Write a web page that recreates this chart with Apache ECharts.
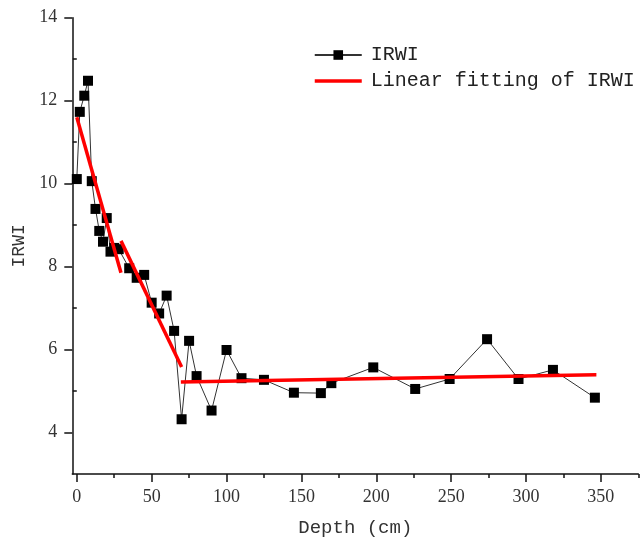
<!DOCTYPE html>
<html>
<head>
<meta charset="utf-8">
<script src="https://cdn.jsdelivr.net/npm/echarts@6/dist/echarts.min.js"></script>
<style>
  html, body { margin: 0; padding: 0; background: #fff; }
  #chart { width: 640px; height: 539px; }
</style>
</head>
<body>
<div id="chart"></div>
<script>
// Measured IRWI profile against depth
const depth = [0, 2, 5, 7.5, 10, 12.5, 15, 17.5, 20, 22.5, 25, 28, 35, 40, 45, 50, 55, 60, 65, 70,
               75, 80, 90, 100, 110, 125, 145, 163, 170, 198, 226, 249, 274, 295, 318, 346];
const irwi = [10.11, 11.73, 12.12, 12.48, 10.06, 9.39, 8.86, 8.60, 9.17, 8.36, 8.45, 8.42, 7.96, 7.73, 7.80, 7.13, 6.87, 7.30, 6.45, 4.32,
              6.21, 5.36, 4.53, 5.99, 5.31, 5.27, 4.96, 4.95, 5.19, 5.57, 5.05, 5.29, 6.25, 5.29, 5.51, 4.84];

// Piecewise linear fits (start depth/value, end depth/value)
const fitDepthA = [0, 29.5];
const fitValueA = [11.60, 7.85];
const fitDepthB = [29.5, 70];
const fitValueB = [8.62, 5.58];
const fitDepthC = [69.5, 347];
const fitValueC = [5.22, 5.39];

// Axis ticks
const xTicks = [0, 50, 100, 150, 200, 250, 300, 350];
const xMinorTicks = [25, 75, 125, 175, 225, 275, 325, 375];
const yTicks = [4, 6, 8, 10, 12, 14];
const yMinorTicks = [5, 7, 9, 11, 13];

const pairs = (xs, ys) => xs.map((x, i) => [x, ys[i]]);

const axisColor = '#111';
const labelFont = { fontFamily: 'Liberation Serif', fontSize: 18, color: '#333' };
const nameFont = { fontFamily: 'Liberation Mono', fontSize: 19, color: '#333' };

const chart = echarts.init(document.getElementById('chart'), null, { renderer: 'canvas' });

const fitName = 'Linear fitting of IRWI';
const fitSeries = [[fitDepthA, fitValueA], [fitDepthB, fitValueB], [fitDepthC, fitValueC]].map(([xs, ys]) => ({
  name: fitName,
  type: 'line',
  data: pairs(xs, ys),
  symbol: 'none',
  z: 5,
  lineStyle: { color: '#ff0000', width: 3.5 },
  itemStyle: { color: '#ff0000' },
  animation: false
}));

chart.setOption({
  animation: false,
  grid: { left: 72.3, right: 1.7, top: 17.7, bottom: 65, outerBoundsMode: 'none' },
  legend: {
    orient: 'vertical',
    left: 308,
    top: 40,
    itemWidth: 47,
    itemHeight: 12,
    itemGap: 6,
    data: ['IRWI', {
      name: fitName,
      itemStyle: { color: 'rgba(0,0,0,0)', borderWidth: 0, opacity: 0 },
      lineStyle: { color: '#ff0000', width: 3.5 }
    }],
    textStyle: { fontFamily: 'Liberation Mono', fontSize: 20, color: '#222', padding: [0, 0, 0, 4] }
  },
  xAxis: [{
    type: 'value',
    min: -3, max: 375,
    name: 'Depth (cm)',
    nameLocation: 'middle',
    nameGap: 44,
    nameTextStyle: nameFont,
    axisLine: { show: true, onZero: false, lineStyle: { color: axisColor, width: 1.5 } },
    axisTick: { show: true, inside: false, length: 8, customValues: xTicks, lineStyle: { color: axisColor, width: 1.5 } },
    axisLabel: { customValues: xTicks, margin: 14, ...labelFont },
    splitLine: { show: false }
  }, {
    type: 'value',
    position: 'bottom',
    min: -3, max: 375,
    axisLine: { show: false },
    axisTick: { show: true, inside: false, length: 4, customValues: xMinorTicks, lineStyle: { color: axisColor, width: 1.5 } },
    axisLabel: { show: false },
    splitLine: { show: false }
  }],
  yAxis: [{
    type: 'value',
    min: 3, max: 14,
    name: 'IRWI',
    nameLocation: 'middle',
    nameGap: 39,
    nameRotate: 90,
    nameTextStyle: { ...nameFont, fontSize: 18 },
    axisLine: { show: true, onZero: false, lineStyle: { color: axisColor, width: 1.5 } },
    axisTick: { show: true, inside: false, length: 8, customValues: yTicks, lineStyle: { color: axisColor, width: 1.5 } },
    axisLabel: { customValues: yTicks, margin: 15, ...labelFont },
    splitLine: { show: false }
  }, {
    type: 'value',
    position: 'left',
    min: 3, max: 14,
    axisLine: { show: false },
    axisTick: { show: true, inside: false, length: 4, customValues: yMinorTicks, lineStyle: { color: axisColor, width: 1.5 } },
    axisLabel: { show: false },
    splitLine: { show: false }
  }],
  series: [{
    name: 'IRWI',
    type: 'line',
    data: pairs(depth, irwi),
    symbol: 'rect',
    symbolSize: 10,
    z: 3,
    lineStyle: { color: '#333', width: 1 },
    itemStyle: { color: '#000' },
    animation: false
  }, ...fitSeries]
});
</script>
</body>
</html>
